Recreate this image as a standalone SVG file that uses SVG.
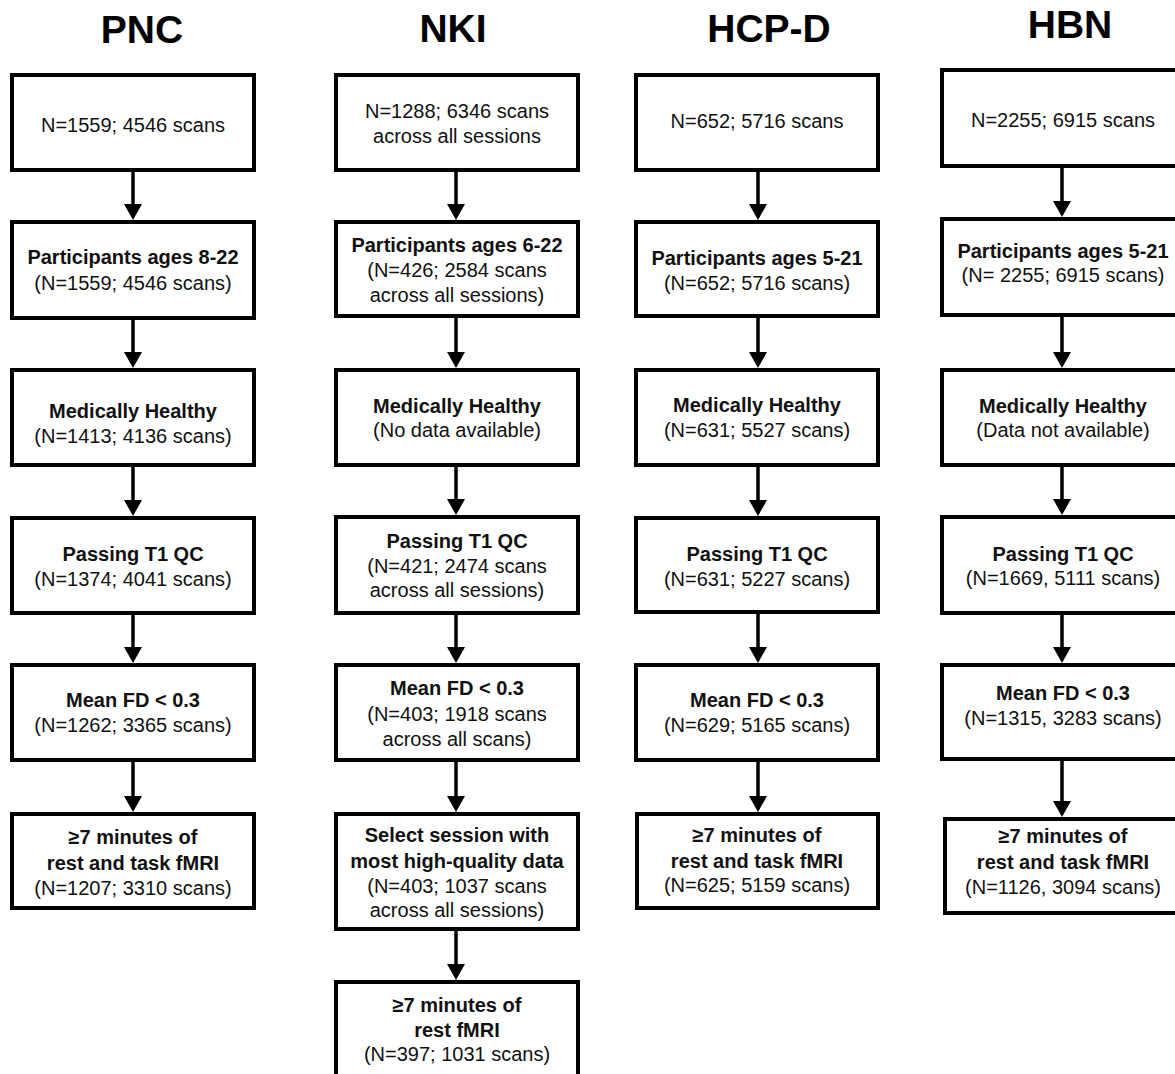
<svg xmlns="http://www.w3.org/2000/svg" width="1175" height="1074" viewBox="0 0 1175 1074">
<defs>
<style>
.box{fill:#fff;stroke:#000;stroke-width:4}
.t{font-family:"Liberation Sans",Arial,sans-serif;font-size:20px;fill:#111;text-anchor:middle}
.b{font-weight:bold}
.title{font-family:"Liberation Sans",Arial,sans-serif;font-size:39px;font-weight:bold;fill:#000;text-anchor:middle}
.c{stroke:#000;stroke-width:3.5;fill:none;marker-end:url(#ah)}
</style>
<marker id="ah" viewBox="0 -9 16 18" refX="0" refY="0" markerWidth="16" markerHeight="18" markerUnits="userSpaceOnUse" orient="auto">
<path d="M0,-9 L16,0 L0,9 z" fill="#000"/>
</marker>
</defs>
<rect width="1175" height="1074" fill="#fff"/>

<g id="titles">
<text class="title" x="142" y="43">PNC</text>
<text class="title" x="453" y="42">NKI</text>
<text class="title" x="769" y="42">HCP-D</text>
<text class="title" x="1070" y="38">HBN</text>
</g>

<g id="connectors">
<line class="c" x1="133" y1="172" x2="133" y2="204"/>
<line class="c" x1="133" y1="320" x2="133" y2="352"/>
<line class="c" x1="133" y1="467" x2="133" y2="500"/>
<line class="c" x1="133" y1="615" x2="133" y2="647"/>
<line class="c" x1="133" y1="762" x2="133" y2="796"/>

<line class="c" x1="456" y1="172" x2="456" y2="204"/>
<line class="c" x1="456" y1="318" x2="456" y2="352"/>
<line class="c" x1="456" y1="467" x2="456" y2="499"/>
<line class="c" x1="456" y1="615" x2="456" y2="647"/>
<line class="c" x1="456" y1="762" x2="456" y2="796"/>
<line class="c" x1="456" y1="931" x2="456" y2="964"/>

<line class="c" x1="758" y1="172" x2="758" y2="204"/>
<line class="c" x1="758" y1="318" x2="758" y2="352"/>
<line class="c" x1="758" y1="467" x2="758" y2="500"/>
<line class="c" x1="758" y1="614" x2="758" y2="647"/>
<line class="c" x1="758" y1="762" x2="758" y2="796"/>

<line class="c" x1="1062" y1="168" x2="1062" y2="201"/>
<line class="c" x1="1062" y1="317" x2="1062" y2="352"/>
<line class="c" x1="1062" y1="467" x2="1062" y2="499"/>
<line class="c" x1="1062" y1="615" x2="1062" y2="647"/>
<line class="c" x1="1062" y1="761" x2="1062" y2="801"/>
</g>

<!-- PNC -->
<g id="pnc1"><rect class="box" x="12" y="75" width="242" height="95"/>
<text class="t" x="133" y="132">N=1559; 4546 scans</text></g>
<g id="pnc2"><rect class="box" x="12" y="222" width="242" height="96"/>
<text class="t b" x="133" y="264">Participants ages 8-22</text>
<text class="t" x="133" y="290">(N=1559; 4546 scans)</text></g>
<g id="pnc3"><rect class="box" x="12" y="370" width="242" height="95"/>
<text class="t b" x="133" y="418">Medically Healthy</text>
<text class="t" x="133" y="443">(N=1413; 4136 scans)</text></g>
<g id="pnc4"><rect class="box" x="12" y="518" width="242" height="95"/>
<text class="t b" x="133" y="561">Passing T1 QC</text>
<text class="t" x="133" y="586">(N=1374; 4041 scans)</text></g>
<g id="pnc5"><rect class="box" x="12" y="665" width="242" height="95"/>
<text class="t b" x="133" y="707">Mean FD &lt; 0.3</text>
<text class="t" x="133" y="732">(N=1262; 3365 scans)</text></g>
<g id="pnc6"><rect class="box" x="12" y="814" width="242" height="94"/>
<text class="t b" x="133" y="844">≥7 minutes of</text>
<text class="t b" x="133" y="870">rest and task fMRI</text>
<text class="t" x="133" y="895">(N=1207; 3310 scans)</text></g>

<!-- NKI -->
<g id="nki1"><rect class="box" x="336" y="75" width="242" height="95"/>
<text class="t" x="457" y="118">N=1288; 6346 scans</text>
<text class="t" x="457" y="143">across all sessions</text></g>
<g id="nki2"><rect class="box" x="336" y="222" width="242" height="94"/>
<text class="t b" x="457" y="252">Participants ages 6-22</text>
<text class="t" x="457" y="277">(N=426; 2584 scans</text>
<text class="t" x="457" y="302">across all sessions)</text></g>
<g id="nki3"><rect class="box" x="336" y="370" width="242" height="95"/>
<text class="t b" x="457" y="413">Medically Healthy</text>
<text class="t" x="457" y="437">(No data available)</text></g>
<g id="nki4"><rect class="box" x="336" y="517" width="242" height="96"/>
<text class="t b" x="457" y="548">Passing T1 QC</text>
<text class="t" x="457" y="573">(N=421; 2474 scans</text>
<text class="t" x="457" y="597">across all sessions)</text></g>
<g id="nki5"><rect class="box" x="336" y="665" width="242" height="95"/>
<text class="t b" x="457" y="695">Mean FD &lt; 0.3</text>
<text class="t" x="457" y="721">(N=403; 1918 scans</text>
<text class="t" x="457" y="746">across all scans)</text></g>
<g id="nki6"><rect class="box" x="336" y="814" width="242" height="115"/>
<text class="t b" x="457" y="842">Select session with</text>
<text class="t b" x="457" y="868">most high-quality data</text>
<text class="t" x="457" y="893">(N=403; 1037 scans</text>
<text class="t" x="457" y="917">across all sessions)</text></g>
<g id="nki7"><rect class="box" x="336" y="982" width="242" height="110"/>
<text class="t b" x="457" y="1012">≥7 minutes of</text>
<text class="t b" x="457" y="1037">rest fMRI</text>
<text class="t" x="457" y="1061">(N=397; 1031 scans)</text></g>

<!-- HCP-D -->
<g id="hcp1"><rect class="box" x="636" y="75" width="242" height="95"/>
<text class="t" x="757" y="128">N=652; 5716 scans</text></g>
<g id="hcp2"><rect class="box" x="636" y="222" width="242" height="94"/>
<text class="t b" x="757" y="265">Participants ages 5-21</text>
<text class="t" x="757" y="290">(N=652; 5716 scans)</text></g>
<g id="hcp3"><rect class="box" x="636" y="370" width="242" height="95"/>
<text class="t b" x="757" y="412">Medically Healthy</text>
<text class="t" x="757" y="437">(N=631; 5527 scans)</text></g>
<g id="hcp4"><rect class="box" x="636" y="518" width="242" height="94"/>
<text class="t b" x="757" y="561">Passing T1 QC</text>
<text class="t" x="757" y="586">(N=631; 5227 scans)</text></g>
<g id="hcp5"><rect class="box" x="636" y="665" width="242" height="95"/>
<text class="t b" x="757" y="707">Mean FD &lt; 0.3</text>
<text class="t" x="757" y="732">(N=629; 5165 scans)</text></g>
<g id="hcp6"><rect class="box" x="637" y="814" width="241" height="94"/>
<text class="t b" x="757" y="842">≥7 minutes of</text>
<text class="t b" x="757" y="868">rest and task fMRI</text>
<text class="t" x="757" y="892">(N=625; 5159 scans)</text></g>

<!-- HBN -->
<g id="hbn1"><rect class="box" x="942" y="70" width="242" height="96"/>
<text class="t" x="1063" y="127">N=2255; 6915 scans</text></g>
<g id="hbn2"><rect class="box" x="942" y="219" width="242" height="96"/>
<text class="t b" x="1063" y="258">Participants ages 5-21</text>
<text class="t" x="1063" y="282">(N= 2255; 6915 scans)</text></g>
<g id="hbn3"><rect class="box" x="942" y="370" width="242" height="95"/>
<text class="t b" x="1063" y="413">Medically Healthy</text>
<text class="t" x="1063" y="437">(Data not available)</text></g>
<g id="hbn4"><rect class="box" x="942" y="517" width="242" height="96"/>
<text class="t b" x="1063" y="561">Passing T1 QC</text>
<text class="t" x="1063" y="585">(N=1669, 5111 scans)</text></g>
<g id="hbn5"><rect class="box" x="942" y="665" width="242" height="94"/>
<text class="t b" x="1063" y="700">Mean FD &lt; 0.3</text>
<text class="t" x="1063" y="725">(N=1315, 3283 scans)</text></g>
<g id="hbn6"><rect class="box" x="945" y="819" width="242" height="94"/>
<text class="t b" x="1063" y="843">≥7 minutes of</text>
<text class="t b" x="1063" y="869">rest and task fMRI</text>
<text class="t" x="1063" y="894">(N=1126, 3094 scans)</text></g>
</svg>
